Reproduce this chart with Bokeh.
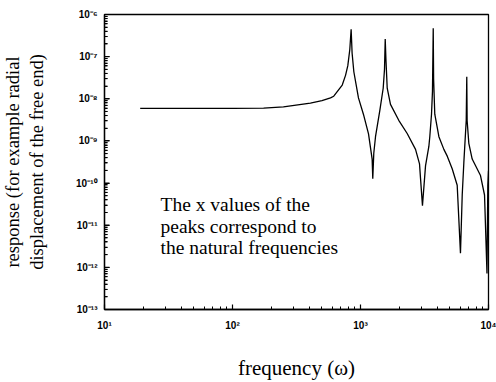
from bokeh.plotting import figure
from bokeh.models import FixedTicker, CustomJSTickFormatter, Label
from bokeh.embed import file_html
from bokeh.resources import INLINE

# Data
freq = [19, 50, 100, 175, 250, 406, 500, 583, 618, 720, 764, 796, 825, 845,
        860, 887, 964, 1055, 1155, 1233, 1247, 1270, 1310, 1415, 1504, 1540,
        1560, 1580, 1617, 1715, 1990, 2316, 2691, 2891, 2944, 3049, 3221, 3420,
        3478, 3587, 3650, 3700, 3725, 3805, 4097, 4481, 4762, 5204, 5694, 6040,
        6233, 6417, 6700, 6765, 6810, 7019, 7458, 8660, 9310, 9730, 9880, 10000]
response = [5.9e-9, 5.9e-9, 5.95e-9, 6.0e-9, 6.4e-9, 7.9e-9, 9.0e-9, 1.05e-8,
            1.15e-8, 2.12e-8, 3.6e-8, 6.1e-8, 1.48e-7, 4.45e-7, 1.2e-7, 4.38e-8,
            1.05e-8, 4.25e-9, 1.47e-9, 3.71e-10, 1.26e-10, 5.1e-10, 1.26e-9,
            5.25e-9, 1.78e-8, 5.0e-8, 2.62e-7, 8.7e-8, 1.78e-8, 7.35e-9, 3.09e-9,
            1.5e-9, 6.3e-10, 2.85e-10, 1.29e-10, 2.91e-11, 2.56e-10, 7.39e-10,
            1.26e-9, 4.31e-9, 1.5e-8, 4.69e-7, 3.0e-8, 4.31e-9, 1.26e-9, 6.3e-10,
            4.35e-10, 2.18e-10, 8.86e-11, 2.17e-12, 5.21e-11, 3.05e-10, 3.09e-9,
            3.31e-8, 3.0e-9, 8.8e-10, 3.71e-10, 1.51e-10, 5.21e-11, 7.2e-13,
            8.86e-11, 1.96e-10]

x_major_ticks = [10, 100, 1000, 10000]
x_minor_ticks = [k * 10 ** n for n in (1, 2, 3) for k in range(2, 10)]
y_major_ticks = [1e-13, 1e-12, 1e-11, 1e-10, 1e-9, 1e-8, 1e-7, 1e-6]
y_minor_ticks = [k * 10.0 ** n for n in range(-13, -6) for k in range(2, 10)]

x_label = "frequency (\u03c9)"
y_label = "response (for example radial\ndisplacement of the free end)"
note_lines = ["The x values of the", "peaks correspond to", "the natural frequencies"]
note_x = 27.4
note_y = [3.07e-11, 9.56e-12, 2.98e-12]

X_MIN, X_MAX = 10, 10000
p = figure(width=496, height=382, x_axis_type="log", y_axis_type="log",
           x_range=(X_MIN, X_MAX), y_range=(1e-13, 1e-6),
           output_backend="svg", toolbar_location=None)
p.min_border_left = 104
p.min_border_right = 8
p.min_border_top = 14
p.min_border_bottom = 64
p.background_fill_color = "white"
p.border_fill_color = "white"
p.outline_line_color = "black"
p.outline_line_width = 1.3
p.grid.visible = False

fmt_code = """
const e = Math.round(Math.log10(tick));
const sup = {'-':'\\u207b','0':'\\u2070','1':'\\u00b9','2':'\\u00b2','3':'\\u00b3',
             '4':'\\u2074','5':'\\u2075','6':'\\u2076','7':'\\u2077','8':'\\u2078','9':'\\u2079'};
return '10' + String(e).split('').map(c => sup[c]).join('');
"""

p.xaxis.ticker = FixedTicker(ticks=x_major_ticks, minor_ticks=x_minor_ticks)
p.yaxis.ticker = FixedTicker(ticks=y_major_ticks, minor_ticks=y_minor_ticks)
for ax in (p.xaxis[0], p.yaxis[0]):
    ax.formatter = CustomJSTickFormatter(code=fmt_code)
    ax.axis_line_color = "black"
    ax.axis_line_width = 1.3
    ax.major_tick_in = 5
    ax.major_tick_out = 0
    ax.minor_tick_in = 3
    ax.minor_tick_out = 0
    ax.major_tick_line_color = "black"
    ax.minor_tick_line_color = "black"
    ax.major_tick_line_width = 1.2
    ax.minor_tick_line_width = 1.0
    ax.major_label_text_font = "Liberation Sans"
    ax.major_label_text_font_style = "bold"
    ax.major_label_text_font_size = "10px"
    ax.major_label_text_color = "black"
    ax.axis_label_text_font = "Liberation Serif"
    ax.axis_label_text_font_style = "normal"
    ax.axis_label_text_color = "black"

p.xaxis.axis_label = x_label
p.xaxis.axis_label_text_font_size = "21px"
p.xaxis.major_label_standoff = 10
p.xaxis.axis_label_standoff = 22
p.yaxis.axis_label = y_label
p.yaxis.axis_label_text_font_size = "18.5px"
p.yaxis.major_label_standoff = 7
p.yaxis.axis_label_standoff = 26

# inward tick marks along the left edge (the y axis' own ticks do not show)
decade_px = 128.0
major_len = 10 ** (5 / decade_px)
minor_len = 10 ** (3 / decade_px)
p.segment(x0=[X_MIN] * len(y_major_ticks), y0=y_major_ticks,
          x1=[X_MIN * major_len] * len(y_major_ticks), y1=y_major_ticks,
          line_color="black", line_width=1.2)
p.segment(x0=[X_MIN] * len(y_minor_ticks), y0=y_minor_ticks,
          x1=[X_MIN * minor_len] * len(y_minor_ticks), y1=y_minor_ticks,
          line_color="black", line_width=1.0)

p.line(freq, response, line_color="black", line_width=1.3)

for txt, yy in zip(note_lines, note_y):
    p.add_layout(Label(x=note_x, y=yy, text=txt, text_font="Liberation Serif",
                       text_font_size="19.5px", text_color="black",
                       text_baseline="alphabetic", text_align="left"))

open("out.html", "w", encoding="utf-8").write(file_html(p, INLINE))
